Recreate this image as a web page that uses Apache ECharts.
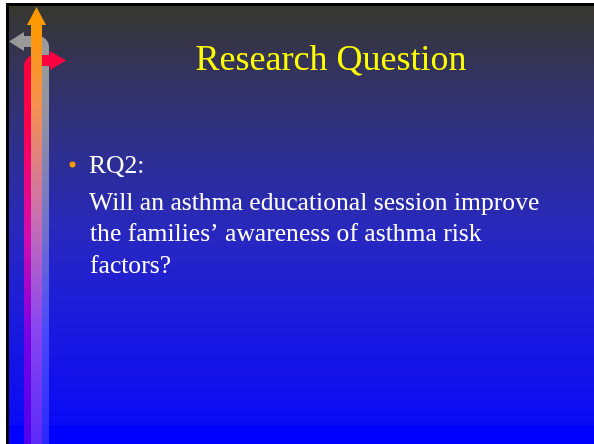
<!DOCTYPE html>
<html>
<head>
<meta charset="utf-8">
<script src="https://cdn.jsdelivr.net/npm/echarts@6/dist/echarts.min.js"></script>
<style>
html,body{margin:0;padding:0;background:#fff;}
#c{width:594px;height:444px;}
</style>
</head>
<body>
<div id="c"></div>
<script>
// Slide text content
const titleLines = ['Research Question'];
const bulletLabels = ['RQ2:'];
const bodyLines = [
  'Will an asthma educational session improve',
  'the families\u2019 awareness of asthma risk',
  'factors?'
];

const chart = echarts.init(document.getElementById('c'), null, {renderer: 'canvas'});

function vGrad(stops) {
  return new echarts.graphic.LinearGradient(0, 0, 0, 1,
    stops.map(s => ({offset: s[0], color: s[1]})));
}

const serif = '"Liberation Serif", "Times New Roman", serif';

const elements = [];
// page + border
elements.push({type: 'rect', shape: {x: 0, y: 0, width: 594, height: 444}, style: {fill: '#ffffff'}, silent: true});
elements.push({type: 'rect', shape: {x: 6, y: 3, width: 588, height: 441}, style: {fill: '#000000'}, silent: true});
// background gradient
elements.push({type: 'rect', shape: {x: 9, y: 6, width: 585, height: 419},
  style: {fill: vGrad([[0, '#37372e'], [0.13, '#343356'], [0.32, '#2e3088'], [0.53, '#2828bc'], [0.7, '#1e1ed8'], [1, '#0a0af6']])}, silent: true});
elements.push({type: 'rect', shape: {x: 9, y: 425, width: 585, height: 19}, style: {fill: '#0000ff'}, silent: true});

// gray arrow (left-pointing, turning down)
const grayGrad = vGrad([[0, '#999999'], [0.15, '#9494a0'], [0.45, '#7272cc'], [0.72, '#4848fc'], [1, '#2828ff']]);
elements.push({type: 'rect', shape: {x: 38, y: 47, width: 11, height: 397}, style: {fill: grayGrad}, silent: true});
elements.push({type: 'rect', shape: {x: 22, y: 36, width: 16.5, height: 11}, style: {fill: '#999999'}, silent: true});
elements.push({type: 'sector', shape: {cx: 38, cy: 47, r0: 0, r: 11, startAngle: -Math.PI / 2, endAngle: 0, clockwise: true}, style: {fill: '#999999'}, silent: true});
elements.push({type: 'polygon', shape: {points: [[9, 41.5], [24, 32], [24, 51]]}, style: {fill: '#999999'}, silent: true});

// red arrow (right-pointing, turning down)
const redGrad = vGrad([[0, '#ff0040'], [0.15, '#ff004c'], [0.45, '#d40cae'], [0.72, '#7400e6'], [1, '#5000f0']]);
elements.push({type: 'rect', shape: {x: 24, y: 66, width: 11, height: 378}, style: {fill: redGrad}, silent: true});
elements.push({type: 'sector', shape: {cx: 35, cy: 66, r0: 0, r: 11, startAngle: Math.PI, endAngle: Math.PI * 1.5, clockwise: true}, style: {fill: '#ff0040'}, silent: true});
elements.push({type: 'rect', shape: {x: 34.5, y: 55, width: 16, height: 11}, style: {fill: '#ff0040'}, silent: true});
elements.push({type: 'polygon', shape: {points: [[50, 51], [66, 60.5], [50, 70]]}, style: {fill: '#ff0040'}, silent: true});

// orange arrow (up)
const orangeGrad = vGrad([[0, '#ff9900'], [0.18, '#f5924c'], [0.45, '#ca72ae'], [0.72, '#8a46f0'], [1, '#5c2af8']]);
elements.push({type: 'rect', shape: {x: 31, y: 24, width: 11, height: 420}, style: {fill: orangeGrad}, silent: true});
elements.push({type: 'polygon', shape: {points: [[36.5, 7], [46, 25], [27, 25]]}, style: {fill: '#ff9900'}, silent: true});

// title
titleLines.forEach((t, i) => {
  elements.push({type: 'text', x: 331, y: 61 + i * 40, silent: true,
    style: {text: t, fill: '#ffff00', font: '36px ' + serif, textAlign: 'center', textVerticalAlign: 'middle'}});
});

// bullet + label
bulletLabels.forEach((t, i) => {
  elements.push({type: 'circle', shape: {cx: 72.5, cy: 164.5 + i * 40, r: 3}, style: {fill: '#ff9900'}, silent: true});
  elements.push({type: 'text', x: 89, y: 166 + i * 40, silent: true,
    style: {text: t, fill: '#ffffff', font: '25.6px ' + serif, textAlign: 'left', textVerticalAlign: 'middle'}});
});

// body lines
bodyLines.forEach((t, i) => {
  elements.push({type: 'text', x: i === 0 ? 89 : 90, y: 203 + i * 31.5, silent: true,
    style: {text: t, fill: '#ffffff', font: '25.6px ' + serif, textAlign: 'left', textVerticalAlign: 'middle'}});
});

chart.setOption({
  animation: false,
  backgroundColor: '#ffffff',
  graphic: {elements: elements}
});
</script>
</body>
</html>
